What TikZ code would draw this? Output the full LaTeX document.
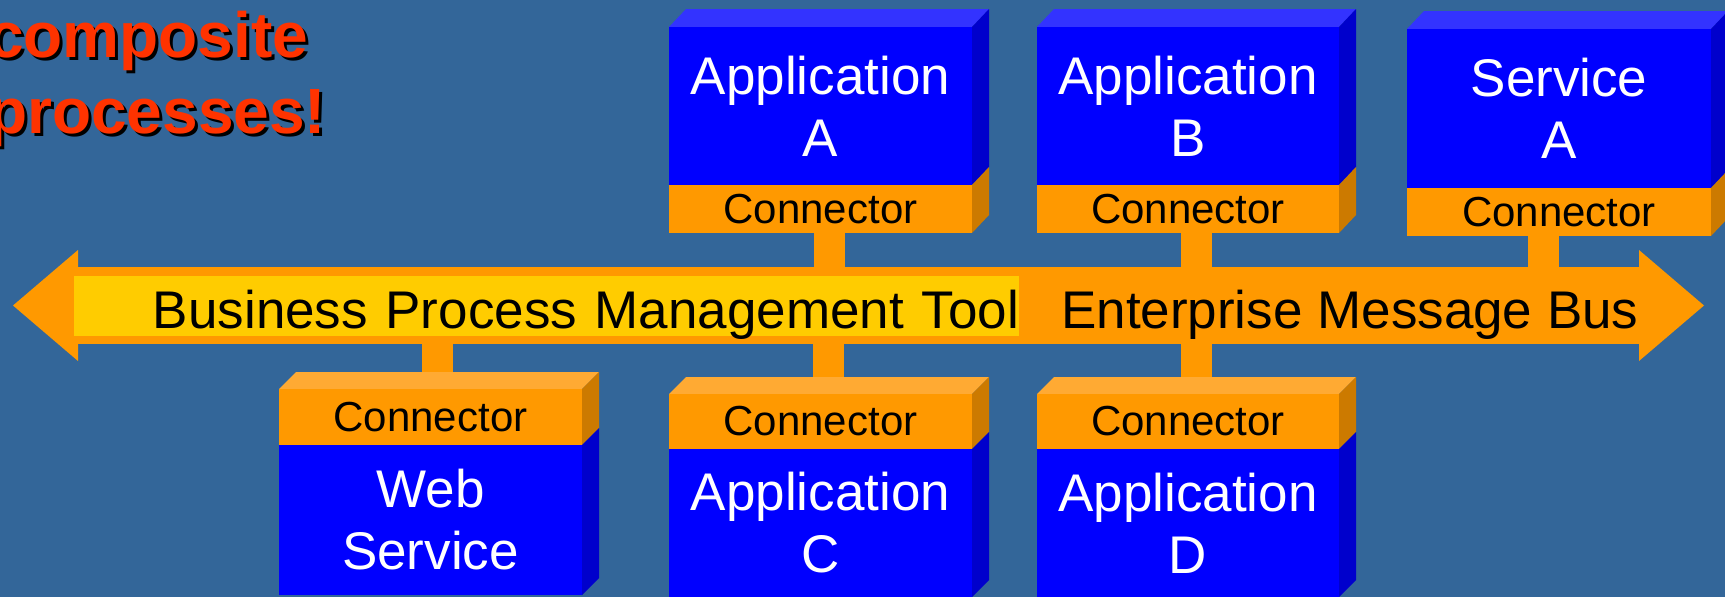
\documentclass[tikz,border=0pt]{standalone}
\usepackage{fontspec}
\setmainfont{Liberation Sans}
\definecolor{bg}{HTML}{336699}
\definecolor{bfront}{HTML}{0000FF}
\definecolor{btop}{HTML}{3333FF}
\definecolor{bside}{HTML}{0000CC}
\definecolor{ofront}{HTML}{FF9900}
\definecolor{otop}{HTML}{FFAA33}
\definecolor{oside}{HTML}{CC7A00}
\definecolor{ylabel}{HTML}{FFCC00}
\definecolor{titlered}{HTML}{FF3300}
\tikzset{
  face/.style={rectangle, inner sep=0pt, outer sep=0pt, anchor=north west},
  bluefront/.style={face, fill=bfront, text=white, align=center, font=\fontsize{53}{62}\selectfont},
  confront/.style={face, fill=ofront, text=black, font=\fontsize{42}{48}\selectfont},
  stem/.style={draw=ofront, line width=31pt},
  busshaft/.style={rectangle, fill=ofront, inner sep=0pt, outer sep=0pt, anchor=north west},
  bpmbox/.style={rectangle, fill=ylabel, inner sep=0pt, outer sep=0pt, anchor=north west, text=black,
    text width=945pt, align=right, text height=52pt, text depth=8pt, font=\fontsize{53}{62}\selectfont},
  bustext/.style={inner sep=0pt, anchor=base west, text=black, font=\fontsize{53}{62}\selectfont},
  titletxt/.style={inner sep=0pt, anchor=north west, align=left, font=\bfseries\fontsize{64}{76}\selectfont},
}
\newcommand\TopUnit[8]{%
  \fill[btop] (#2,#4) -- (#2+17,#4-18) -- (#3+17,#4-18) -- (#3,#4) -- cycle;
  \fill[bside] (#3,#4) -- (#3+17,#4-18) -- (#3+17,#5-18) -- (#3,#5) -- cycle;
  \fill[oside] (#3,#5) -- (#3+17,#5-18) -- (#3+17,#6-18) -- (#3,#6) -- cycle;
  \node[bluefront, minimum width={#3pt-#2pt}, minimum height={#5pt-#4pt}] (#1) at (#2,#4) {#7};
  \node[confront, minimum width={#3pt-#2pt}, minimum height={#6pt-#5pt}] (#1con) at (#2,#5) {Connector};
  \coordinate (#1stem) at ([xshift=#8pt]#1con.south);
  \draw[stem] (#1stem) -- (#1stem |- bus.north);
}
\newcommand\BotUnit[8]{%
  \fill[otop] (#2,#4) -- (#2+17,#4-17) -- (#3+17,#4-17) -- (#3,#4) -- cycle;
  \fill[oside] (#3,#4) -- (#3+17,#4-17) -- (#3+17,#5-17) -- (#3,#5) -- cycle;
  \fill[bside] (#3,#5) -- (#3+17,#5-17) -- (#3+17,#6-17) -- (#3,#6) -- cycle;
  \node[confront, minimum width={#3pt-#2pt}, minimum height={#5pt-#4pt}] (#1con) at (#2,#4) {Connector};
  \node[bluefront, minimum width={#3pt-#2pt}, minimum height={#6pt-#5pt}] (#1) at (#2,#5) {#7};
  \coordinate (#1stem) at ([xshift=#8pt, yshift=17pt]#1con.north);
  \draw[stem] (#1stem |- bus.south) -- (#1stem);
}
\begin{document}
\begin{tikzpicture}[x=1pt, y=-1pt]
\useasboundingbox[fill=bg] (0,0) rectangle (1725,597);

% title with shadow
\node[titletxt, text=black] (titleshadow) at (-9,14) {composite\\processes!};
\node[titletxt, text=titlered] (title) at (-12,11) {composite\\processes!};

% bus arrow
\node[busshaft, minimum width=1561pt, minimum height=77pt] (bus) at (78,267) {};
\fill[ofront] ([yshift=17pt]bus.north west) -- ([xshift=-65pt]bus.west) -- ([yshift=-17pt]bus.south west) -- cycle;
\fill[ofront] ([yshift=17pt]bus.north east) -- ([xshift=65pt]bus.east) -- ([yshift=-17pt]bus.south east) -- cycle;
\node[bpmbox] (bpm) at (74,276) {Business Process Management Tool};
\node[bustext] (emb) at (1061,328) {Enterprise Message Bus};

% top units
\TopUnit{appA}{669}{972}{27}{185}{233}{Application\\A}{8.5}
\TopUnit{appB}{1037}{1339}{27}{185}{233}{Application\\B}{8.5}
\TopUnit{svcA}{1407}{1711}{29}{188}{236}{Service\\A}{-15.5}

% bottom units
\BotUnit{web}{279}{582}{389}{445}{595}{Web\\Service}{6.5}
\BotUnit{appC}{669}{972}{394}{449}{597}{Application\\C}{8}
\BotUnit{appD}{1037}{1339}{394}{449}{597}{Application\\D}{8}
\end{tikzpicture}
\end{document}
